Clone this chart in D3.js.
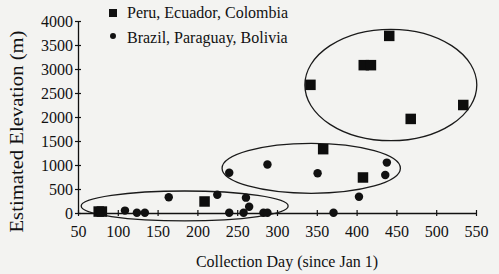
<!DOCTYPE html>
<html>
<head>
<meta charset="utf-8">
<script src="https://cdn.jsdelivr.net/npm/d3@7"></script>
<style>
body{margin:0;background:#f3f3f1;}
text{font-family:'Liberation Serif','Times New Roman',serif;fill:#111;}
</style>
</head>
<body>
<div class="chart"></div>
<script>
// Peru, Ecuador, Colombia (squares)
let peruDay=[76,80,209,342,358,408,409,418,441,468,534]
let peruElev=[30,30,240,2670,1330,740,3080,3080,3690,1960,2250]
// Brazil, Paraguay, Bolivia (diamonds)
let brazilDay=[109,124,134,164,225,240,240,258,261,265,283,288,288,351,371,403,436,438]
let brazilElev=[50,5,5,330,380,840,5,5,320,130,5,5,1010,830,5,340,790,1050]
// grouping ellipses: centre day, centre elevation, radius in days, radius in metres
let ellDay=[184,343,443]
let ellElev=[146,931,2667]
let ellRDay=[130,112,108]
let ellRElev=[312,521,1160]
let xTicks=[50,100,150,200,250,300,350,400,450,500,550]
let yTicks=[0,500,1000,1500,2000,2500,3000,3500,4000]
let legendNames=['Peru, Ecuador, Colombia','Brazil, Paraguay, Bolivia']

let w=499, h=274
let svg=d3.select('.chart').append('svg').attr('width',w).attr('height',h)
let xScale=d3.scaleLinear().domain([50,550]).range([78,476])
let yScale=d3.scaleLinear().domain([0,4000]).range([213,21])

let xAxis=d3.axisBottom(xScale).tickValues(xTicks).tickFormat(d3.format('d')).tickSize(3).tickSizeOuter(0).tickPadding(9)
let yAxis=d3.axisLeft(yScale).tickValues(yTicks).tickFormat(d3.format('d')).tickSize(3).tickSizeOuter(0).tickPadding(2)

let gx=svg.append('g').attr('transform','translate(0,'+yScale(0)+')').call(xAxis)
let gy=svg.append('g').attr('transform','translate('+xScale(50)+',0)').call(yAxis)
// ticks cross the axis line
gx.selectAll('.tick line').attr('y1',-3).attr('y2',3)
gy.selectAll('.tick line').attr('x1',-3).attr('x2',3)
svg.selectAll('.domain').attr('stroke','#111').attr('stroke-width',1.3)
svg.selectAll('.tick line').attr('stroke','#111').attr('stroke-width',1.2)
svg.selectAll('.tick text').style('font-size','16px').attr('fill','#111')
gx.selectAll('.tick text').attr('dy','0.75em')

// ellipses
svg.selectAll('.ell').data(ellDay).enter().append('ellipse')
    .attr('cx',(d)=>xScale(d))
    .attr('cy',(d,i)=>yScale(ellElev[i]))
    .attr('rx',(d,i)=>xScale(d+ellRDay[i])-xScale(d))
    .attr('ry',(d,i)=>yScale(0)-yScale(ellRElev[i]))
    .attr('fill','none').attr('stroke','#1a1a1a').attr('stroke-width',1.3).attr('class','ell')

let diamond=d3.symbol().type(d3.symbolCircle).size(56)
svg.selectAll('.dia').data(brazilDay).enter().append('path')
    .attr('d',diamond)
    .attr('transform',(d,i)=>'translate('+xScale(d)+','+yScale(brazilElev[i])+')')
    .attr('fill','#111').attr('class','dia')

let sq=10.5
svg.selectAll('.sq').data(peruDay).enter().append('rect')
    .attr('x',(d)=>xScale(d)-sq/2)
    .attr('y',(d,i)=>yScale(peruElev[i])-sq/2)
    .attr('width',sq).attr('height',sq)
    .attr('fill','#0d0d0d').attr('class','sq')

// legend
svg.append('rect').attr('x',109).attr('y',9).attr('width',8).attr('height',8).attr('fill','#111')
svg.append('path').attr('d',d3.symbol().type(d3.symbolCircle).size(28)).attr('transform','translate(113,36)').attr('fill','#111')
svg.selectAll('.leg').data(legendNames).enter().append('text')
    .text((d)=>d).attr('x',127).attr('y',(d,i)=>18+i*24.5).style('font-size','16px').attr('class','leg')

svg.append('text').text('Collection Day (since Jan 1)').attr('x',287).attr('y',267)
    .attr('text-anchor','middle').style('font-size','16px')
svg.append('text').text('Estimated Elevation (m)').attr('transform','translate(23,131.5) rotate(-90)')
    .attr('text-anchor','middle').attr('textLength',202).attr('lengthAdjust','spacingAndGlyphs').style('font-size','18px')
</script>
</body>
</html>
